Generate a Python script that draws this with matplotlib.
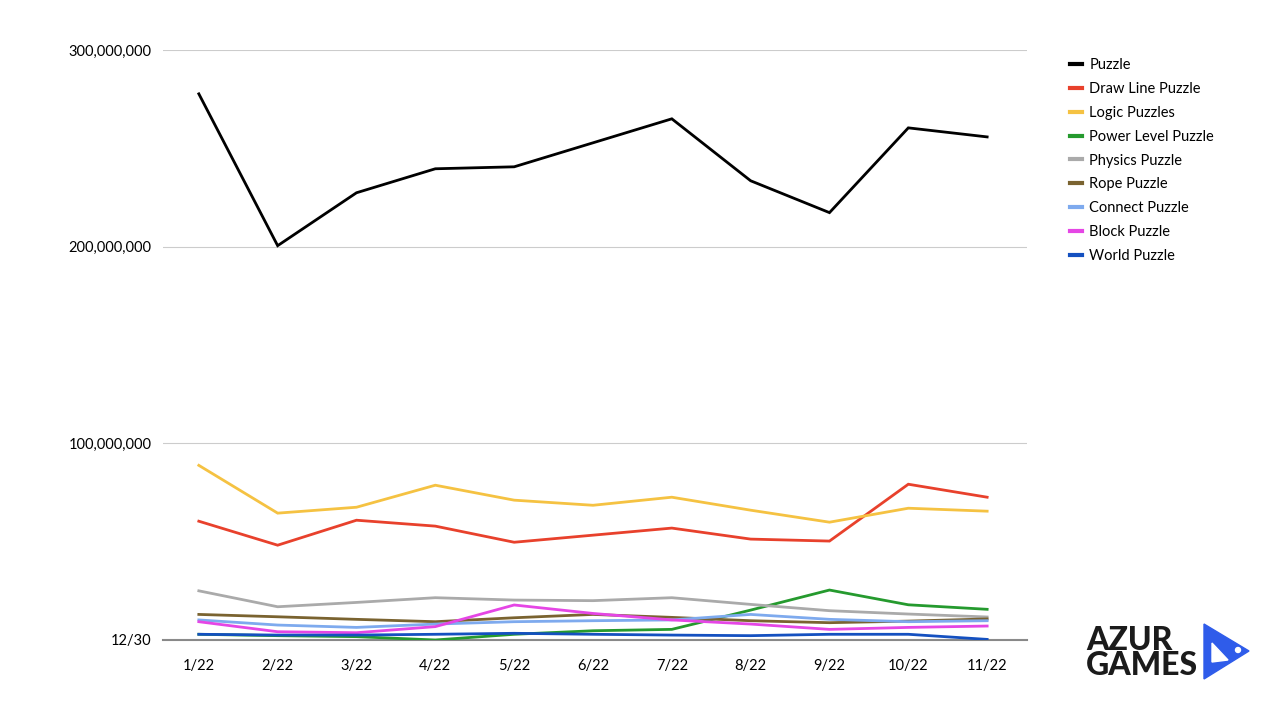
import matplotlib
matplotlib.use("Agg")
import matplotlib.pyplot as plt
from matplotlib.patches import Polygon, Circle

# Données (millions de téléchargements)
months = ['1/22', '2/22', '3/22', '4/22', '5/22', '6/22', '7/22', '8/22', '9/22', '10/22', '11/22']

puzzle = [277.7, 200.5, 227.4, 239.6, 240.6, 252.8, 265.0, 233.5, 217.3, 260.4, 255.8]
draw_line = [60.4, 48.2, 60.9, 57.9, 49.7, 53.3, 56.9, 51.3, 50.3, 79.2, 72.6]
logic = [88.8, 64.5, 67.5, 78.7, 71.1, 68.5, 72.6, 66.0, 59.9, 67.0, 65.5]
power_level = [2.9, 2.2, 1.7, 0.0, 2.9, 4.7, 5.4, 15.2, 25.4, 17.9, 15.6]
physics = [25.0, 16.9, 19.1, 21.5, 20.3, 20.0, 21.5, 18.1, 14.9, 13.2, 11.7]
rope = [13.0, 11.8, 10.5, 9.3, 11.3, 13.0, 11.5, 9.8, 8.8, 9.6, 10.7]
connect = [10.2, 7.6, 6.4, 8.1, 9.3, 9.8, 10.2, 13.0, 10.5, 9.3, 9.8]
block = [9.3, 4.2, 3.7, 6.8, 17.8, 13.5, 10.2, 8.1, 5.4, 6.4, 7.1]
world = [2.9, 2.5, 2.5, 2.9, 3.4, 2.9, 2.5, 2.2, 2.9, 2.9, 0.3]

series = [
    ('Puzzle', puzzle, '#000000'),
    ('Draw Line Puzzle', draw_line, '#E8412C'),
    ('Logic Puzzles', logic, '#F5C242'),
    ('Power Level Puzzle', power_level, '#259A2E'),
    ('Physics Puzzle', physics, '#AAAAAA'),
    ('Rope Puzzle', rope, '#7A6330'),
    ('Connect Puzzle', connect, '#7EAAEE'),
    ('Block Puzzle', block, '#E546E5'),
    ('World Puzzle', world, '#1450C0'),
]

plt.rcParams['font.family'] = ['Lato', 'DejaVu Sans']

fig = plt.figure(figsize=(12.8, 7.1), dpi=100)
ax = fig.add_axes([0.127, 0.0986, 0.675, 0.831])

x = list(range(len(months)))
for name, vals, color in series:
    ax.plot(x, [v * 1e6 for v in vals], color=color, linewidth=2.0, label=name,
            solid_joinstyle='miter')

ax.set_xlim(-0.46, 10.5)
ax.set_ylim(0, 300e6)
ax.set_xticks(x)
ax.set_xticklabels(months, fontsize=10.5)
ax.set_yticks([0, 100e6, 200e6, 300e6])
ax.set_yticklabels(['12/30', '100,000,000', '200,000,000', '300,000,000'], fontsize=10.5)
ax.tick_params(length=0, pad=8)
ax.tick_params(axis='x', pad=14)
ax.grid(axis='y', color='#CCCCCC', linewidth=0.8)
for s in ['top', 'right', 'left']:
    ax.spines[s].set_visible(False)
ax.spines['bottom'].set_color('#888888')
ax.spines['bottom'].set_linewidth(1.5)
ax.spines['bottom'].set_zorder(0)

# Légende
leg = fig.legend(loc='upper left', bbox_to_anchor=(0.826, 0.937), frameon=False,
                 fontsize=10.5, handlelength=0.8, handletextpad=0.5, labelspacing=0.68)
for h in leg.get_lines():
    h.set_linewidth(3)

# Logo Azur Games (coordonnées en pixels, origine en bas)
H = 710
fig.text(1086 / 1280, (H - 680) / H, 'AZUR\nGAMES', fontsize=23, fontweight='black',
         color='#1B1B1B', linespacing=0.85, ha='left', va='bottom')
fig.patches.append(Polygon([[1204, H - 624], [1204, H - 679], [1249, H - 651]], closed=True,
                           color='#2F5CEA', transform=None))
fig.patches.append(Polygon([[1212, H - 643], [1212, H - 662], [1228, H - 660]], closed=True,
                           color='white', transform=None))
fig.patches.append(Circle((1238, H - 650), 2.5, color='white', transform=None))

plt.savefig('out.png', dpi=100)
